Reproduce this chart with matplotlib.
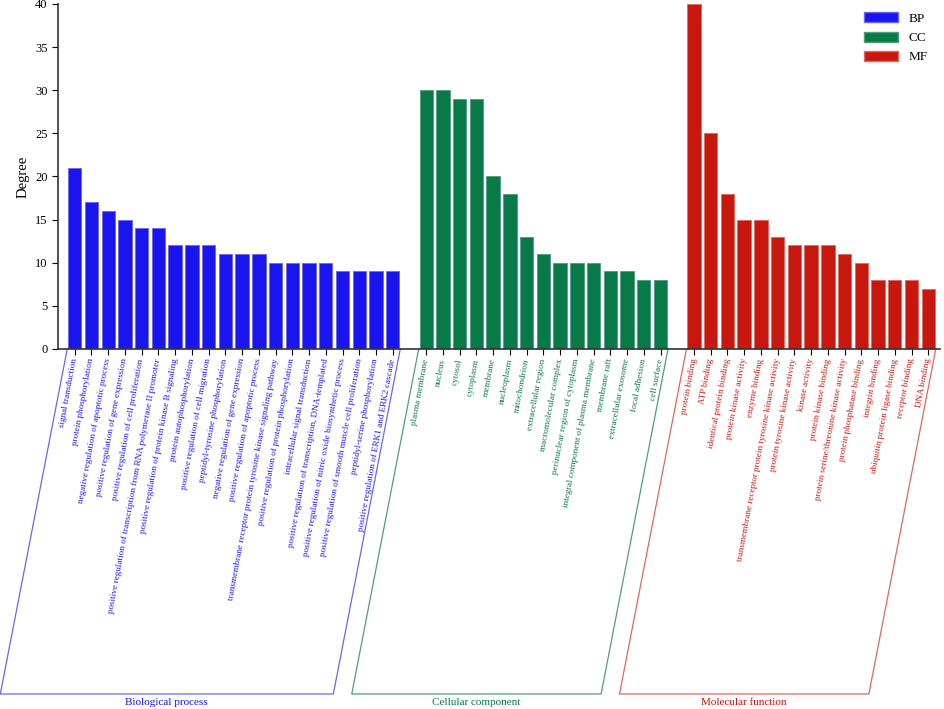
import matplotlib
matplotlib.use("Agg")
import matplotlib.pyplot as plt
from matplotlib.patches import Patch

plt.rcParams['font.family'] = ['Liberation Serif', 'DejaVu Serif']

# ---- data ----
bp_terms = [
    'signal transduction', 'protein phosphorylation',
    'negative regulation of apoptotic process',
    'positive regulation of gene expression',
    'positive regulation of cell proliferation',
    'positive regulation of transcription from RNA polymerase II promoter',
    'positive regulation of protein kinase B signaling',
    'protein autophosphorylation',
    'positive regulation of cell migration',
    'peptidyl-tyrosine phosphorylation',
    'negative regulation of gene expression',
    'positive regulation of apoptotic process',
    'transmembrane receptor protein tyrosine kinase signaling pathway',
    'positive regulation of protein phosphorylation',
    'intracellular signal transduction',
    'positive regulation of transcription, DNA-templated',
    'positive regulation of nitric oxide biosynthetic process',
    'positive regulation of smooth muscle cell proliferation',
    'peptidyl-serine phosphorylation',
    'positive regulation of ERK1 and ERK2 cascade',
]
bp_values = [21, 17, 16, 15, 14, 14, 12, 12, 12, 11, 11, 11, 10, 10, 10, 10, 9, 9, 9, 9]

cc_terms = [
    'plasma membrane', 'nucleus', 'cytosol', 'cytoplasm', 'membrane',
    'nucleoplasm', 'mitochondrion', 'extracellular region',
    'macromolecular complex', 'perinuclear region of cytoplasm',
    'integral component of plasma membrane', 'membrane raft',
    'extracellular exosome', 'focal adhesion', 'cell surface',
]
cc_values = [30, 30, 29, 29, 20, 18, 13, 11, 10, 10, 10, 9, 9, 8, 8]

mf_terms = [
    'protein binding', 'ATP binding', 'identical protein binding',
    'protein kinase activity', 'enzyme binding',
    'transmembrane receptor protein tyrosine kinase activity',
    'protein tyrosine kinase activity', 'kinase activity',
    'protein kinase binding', 'protein serine/threonine kinase activity',
    'protein phosphatase binding', 'integrin binding',
    'ubiquitin protein ligase binding', 'receptor binding', 'DNA binding',
]
mf_values = [40, 25, 18, 15, 15, 13, 12, 12, 12, 11, 10, 8, 8, 8, 7]

groups = [
    ('BP', 'Biological process', bp_terms, bp_values, '#1a14f0', '#6b66f0'),
    ('CC', 'Cellular component', cc_terms, cc_values, '#087a4a', '#4e9e7e'),
    ('MF', 'Molecular function', mf_terms, mf_values, '#c8170f', '#e0675d'),
]

fig = plt.figure(figsize=(9.45, 7.09), dpi=100)
ax = fig.add_axes([0.0614, 0.5078, 0.9333, 0.4866])

all_pos, all_labels, all_colors = [], [], []
start = 0
handles = []
for short, long_name, terms, vals, col, line_col in groups:
    pos = list(range(start, start + len(terms)))
    ax.bar(pos, vals, width=0.8, color=col, edgecolor=line_col, linewidth=0.6)
    all_pos += pos
    all_labels += terms
    all_colors += [col] * len(terms)
    # bracket under the labels
    x0, x1 = pos[0] - 0.45, pos[-1] + 0.45
    shift = 4.0
    ybot = -40
    ax.plot([x0, x0 - shift, x1 - shift, x1], [0, ybot, ybot, 0],
            color=line_col, linewidth=0.9, clip_on=False)
    ax.text((x0 + x1) / 2 - shift, ybot - 0.95, long_name, color=col,
            ha='center', va='center', fontsize=8)
    handles.append(Patch(facecolor=col, edgecolor=line_col, label=short))
    start = pos[-1] + 2

ax.set_xlim(-1, 51.7)
ax.set_ylim(0, 40)
ax.set_yticks(range(0, 41, 5))
ax.set_xticks(all_pos)
ax.set_xticklabels(all_labels, rotation=79.5, ha='right', va='center',
                   rotation_mode='anchor', fontsize=6.6)
for lbl, c in zip(ax.get_xticklabels(), all_colors):
    lbl.set_color(c)
ax.tick_params(axis='x', length=4, width=0.8, pad=3)
ax.tick_params(axis='y', length=4, width=0.8, labelsize=9)
ax.set_ylabel('Degree', fontsize=10.5, labelpad=4)
for s in ['top', 'right']:
    ax.spines[s].set_visible(False)
for s in ['left', 'bottom']:
    ax.spines[s].set_color('#333333')
    ax.spines[s].set_linewidth(1.2)

ax.legend(handles=handles, loc='upper right', frameon=False, fontsize=9.5,
          handlelength=2.6, handleheight=0.8, bbox_to_anchor=(1.0, 1.01))

fig.savefig('out.png', dpi=100)
